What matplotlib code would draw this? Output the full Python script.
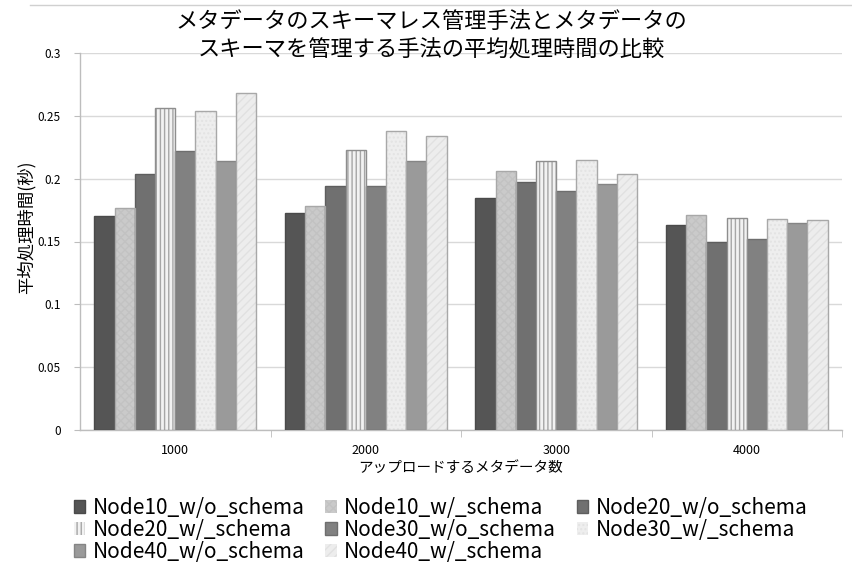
import matplotlib
matplotlib.use("Agg")
import matplotlib.pyplot as plt
from matplotlib.lines import Line2D
import numpy as np

plt.rcParams['font.family'] = ['Noto Sans CJK JP', 'DejaVu Sans']
plt.rcParams['hatch.linewidth'] = 1.0

# Data: average processing time (seconds) per number of uploaded metadata
categories = ["1000", "2000", "3000", "4000"]
series_names = [
    "Node10_w/o_schema", "Node10_w/_schema",
    "Node20_w/o_schema", "Node20_w/_schema",
    "Node30_w/o_schema", "Node30_w/_schema",
    "Node40_w/o_schema", "Node40_w/_schema",
]
node10_wo = [0.170, 0.173, 0.185, 0.163]
node10_w = [0.177, 0.178, 0.206, 0.171]
node20_wo = [0.204, 0.194, 0.197, 0.150]
node20_w = [0.256, 0.223, 0.214, 0.169]
node30_wo = [0.222, 0.194, 0.190, 0.152]
node30_w = [0.254, 0.238, 0.215, 0.168]
node40_wo = [0.214, 0.214, 0.196, 0.165]
node40_w = [0.268, 0.234, 0.204, 0.167]
series_values = [node10_wo, node10_w, node20_wo, node20_w,
                 node30_wo, node30_w, node40_wo, node40_w]
yticks = [0, 0.05, 0.1, 0.15, 0.2, 0.25, 0.3]
ytick_labels = ["0", "0.05", "0.1", "0.15", "0.2", "0.25", "0.3"]

# Styles: (face, hatch, hatch colour, outline)
styles = [
    ("#555555", None, None, "#4a4a4a"),
    ("#cacaca", "xxxx", "#c2c2c2", "#a8a8a8"),
    ("#707070", None, None, "#5e5e5e"),
    ("#f2f2f2", "||||", "#a6a6a6", "#8e8e8e"),
    ("#818181", None, None, "#6e6e6e"),
    ("#eeeeee", "....", "#e3e3e3", "#a8a8a8"),
    ("#9a9a9a", None, None, "#858585"),
    ("#ededed", "////", "#e1e1e1", "#a8a8a8"),
]

W, H = 852, 572
fig = plt.figure(figsize=(W / 100, H / 100), dpi=100)
ax = fig.add_axes([80 / W, 1 - 430 / H, (842 - 80) / W, (430 - 53) / H])

x = np.arange(len(categories))
n = len(series_values)
bw = 0.106
handles = {}
for i, (vals, (fc, hatch, hc, ec)) in enumerate(zip(series_values, styles)):
    pos = x + (i - (n - 1) / 2) * bw
    if hatch:
        bars = ax.bar(pos, vals, width=bw, color=fc, edgecolor=hc, hatch=hatch,
                      linewidth=0, zorder=3, label=series_names[i])
        ax.bar(pos, vals, width=bw, fill=False, edgecolor=ec, linewidth=1.0,
               zorder=4)
    else:
        bars = ax.bar(pos, vals, width=bw, color=fc, edgecolor=ec,
                      linewidth=1.0, zorder=3, label=series_names[i])
    handles[series_names[i]] = bars

ax.set_xlim(-0.5, len(categories) - 0.5)
ax.set_ylim(0, 0.3)
ax.set_yticks(yticks)
ax.set_yticklabels(ytick_labels)
ax.set_xticks(x)
ax.set_xticklabels(categories)
ax.set_xticks(np.arange(len(categories)) + 0.5, minor=True)
ax.tick_params(axis='x', which='major', length=0, pad=10, labelsize=9)
ax.tick_params(axis='x', which='minor', length=5, color="#bdbdbd", direction='out')
ax.tick_params(axis='y', length=4, color="#bdbdbd", pad=10, labelsize=8.5)
ax.grid(axis='y', color="#d9d9d9", linewidth=1.0, zorder=0)
for s in ["top", "right"]:
    ax.spines[s].set_visible(False)
for s in ["left", "bottom"]:
    ax.spines[s].set_color("#bdbdbd")
    ax.spines[s].set_linewidth(1.0)

ax.set_ylabel("平均処理時間(秒)", fontsize=12.5)
ax.yaxis.set_label_coords(-0.058, 0.538)
ax.set_xlabel("アップロードするメタデータ数", fontsize=10.5, labelpad=3)

fig.text(431 / W, 1 - 36 / H,
         "メタデータのスキーマレス管理手法とメタデータの\nスキーマを管理する手法の平均処理時間の比較",
         ha="center", va="center", fontsize=16, linespacing=1.3)

# Frame line along the top of the chart area
fig.add_artist(Line2D([30 / W, 1], [1 - 5 / H, 1 - 5 / H], color="#d0d0d0",
                      linewidth=1.0, transform=fig.transFigure))

# Legend in three columns, filled row by row
order = [0, 3, 6, 1, 4, 7, 2, 5]
leg = fig.legend([handles[series_names[k]] for k in order],
                 [series_names[k] for k in order],
                 ncol=3, loc="upper left", bbox_to_anchor=(74 / W, 1 - 497 / H),
                 frameon=False, fontsize=15, handlelength=0.55, handleheight=0.55,
                 handletextpad=0.35, columnspacing=1.0, labelspacing=0.0,
                 borderpad=0, borderaxespad=0)

fig.savefig("out.png", dpi=100)
